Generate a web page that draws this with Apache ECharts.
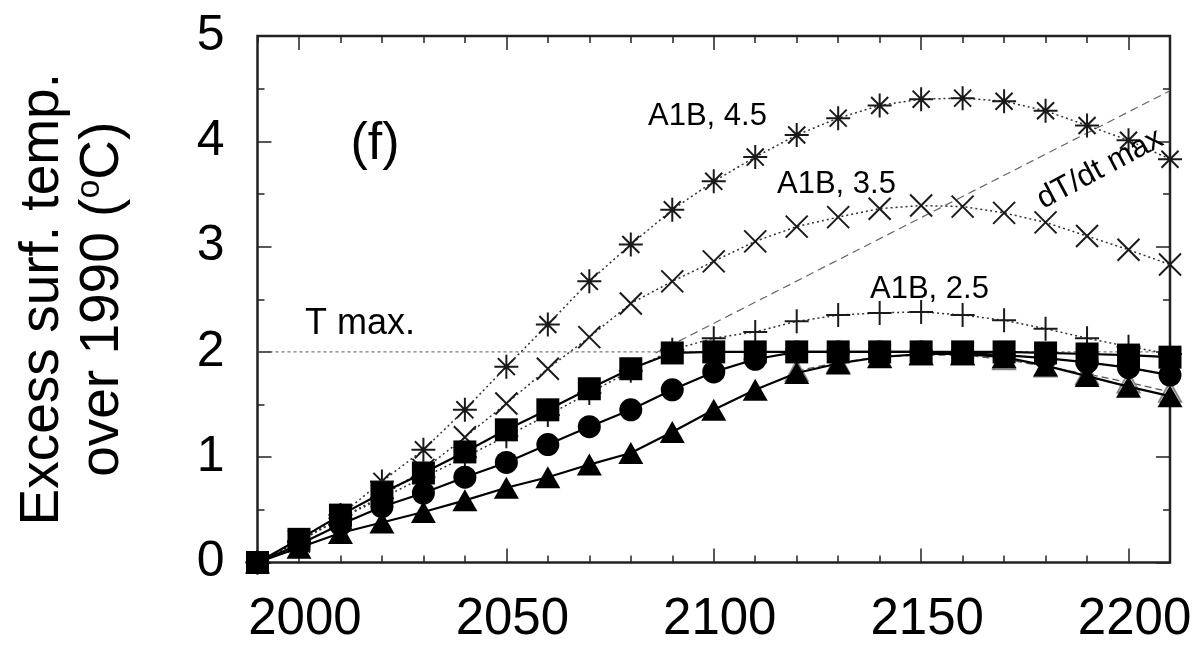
<!DOCTYPE html>
<html>
<head>
<meta charset="utf-8">
<script src="https://cdn.jsdelivr.net/npm/echarts@6/dist/echarts.min.js"></script>
<style>
html,body{margin:0;padding:0;background:#fff;}
#chart{width:1197px;height:650px;}
</style>
</head>
<body>
<div id="chart"></div>
<script>
// ---- data ----
var years = [1990,2000,2010,2020,2030,2040,2050,2060,2070,2080,2090,2100,2110,2120,2130,2140,2150,2160,2170,2180,2190,2200,2210];
var majorYears = [2000,2050,2100,2150,2200];

var a1b45 = [0,0.20,0.45,0.77,1.07,1.45,1.86,2.26,2.67,3.02,3.35,3.62,3.85,4.06,4.22,4.34,4.40,4.41,4.38,4.29,4.15,4.01,3.83];
var a1b35 = [0,0.20,0.42,0.63,0.88,1.19,1.51,1.84,2.14,2.46,2.67,2.86,3.05,3.19,3.28,3.36,3.39,3.38,3.32,3.23,3.10,2.97,2.83];
var a1b25 = [0,0.20,0.42,0.61,0.81,1.00,1.20,1.40,1.61,1.82,2.02,2.13,2.19,2.29,2.35,2.37,2.38,2.35,2.30,2.22,2.13,2.05,1.98];
var squares = [0,0.22,0.45,0.66,0.85,1.05,1.26,1.45,1.65,1.84,1.99,2.00,2.00,2.00,2.00,2.00,2.00,2.00,2.00,1.99,1.98,1.97,1.95];
var circles = [0,0.17,0.36,0.53,0.66,0.81,0.95,1.12,1.29,1.45,1.64,1.81,1.93,2.00,2.00,2.00,2.00,1.99,1.97,1.94,1.90,1.85,1.78];
var triangles = [0,0.14,0.28,0.38,0.48,0.59,0.71,0.81,0.93,1.04,1.24,1.45,1.64,1.80,1.89,1.95,1.98,1.98,1.95,1.87,1.77,1.67,1.58];
var tailYears = [2120,2130,2140,2150,2160,2170,2180,2190,2200,2210];
var openTail = [1.82,1.90,1.95,1.97,1.97,1.93,1.86,1.79,1.71,1.62];
var tmaxX = [1990,2210];
var tmaxY = [2,2];
var dtdtX = [2086,2210];
var dtdtY = [1.99,4.48];

// ---- build ----
function pts(xs, ys){ return xs.map(function(x,i){ return [x, ys[i]]; }); }

var FONT = 'Liberation Sans, Arial, Helvetica, sans-serif';
var AX = '#222';
var ASTER = 'path://M10,0L10,20M0,10L20,10M2.9,2.9L17.1,17.1M17.1,2.9L2.9,17.1';
var CROSS = 'path://M0,0L20,20M20,0L0,20';
var PLUS = 'path://M10,0L10,20M0,10L20,10';

function xAx(pos, major, withLabels){
  var a = {
    type:'value', min:1990, max:2210, position:pos, gridIndex:0,
    axisLine:{show:false}, splitLine:{show:false},
    axisTick:{show:true, inside:true, length: major?14:7, lineStyle:{color:AX, width:1.5}},
    axisLabel:{show:false}
  };
  if (major) { a.axisTick.customValues = majorYears; }
  else { a.interval = 10; }
  if (withLabels) {
    a.axisLabel = {show:true, customValues: majorYears, formatter:function(v){ return String(Math.round(v)); },
      fontSize:51, fontFamily:FONT, color:'#000', margin:32, padding:[0,0,0,12]};
  }
  return a;
}

var option = {
  animation:false,
  backgroundColor:'#fff',
  grid:{left:257.5, right:27, top:36, bottom:87.5, show:true, borderColor:AX, borderWidth:2.5, backgroundColor:'transparent'},
  xAxis:[ xAx('bottom', true, true), xAx('bottom', false, false), xAx('top', true, false), xAx('top', false, false) ],
  yAxis:[
    {type:'value', min:0, max:5, interval:1, position:'left',
     axisLine:{show:false}, splitLine:{show:false},
     axisTick:{show:true, inside:true, length:14, lineStyle:{color:AX, width:1.5}},
     minorTick:{show:true, splitNumber:2, length:7, lineStyle:{color:AX, width:1.5}},
     axisLabel:{fontSize:50, fontFamily:FONT, color:'#000', margin:33},
     name:'{t|Excess surf. temp.}\n{t|over 1990 (}{s|o}{t|C)}',
     nameLocation:'middle', nameRotate:90, nameGap:125,
     nameTextStyle:{fontSize:55, fontFamily:FONT, color:'#000', lineHeight:60,
       rich:{ t:{fontSize:55, fontFamily:FONT, color:'#000', lineHeight:60},
              s:{fontSize:34, fontFamily:FONT, color:'#000', lineHeight:60, verticalAlign:'top'} } }
    },
    {type:'value', min:0, max:5, interval:1, position:'right',
     axisLine:{show:false}, splitLine:{show:false},
     axisTick:{show:true, inside:true, length:14, lineStyle:{color:AX, width:1.5}},
     minorTick:{show:true, splitNumber:2, length:7, lineStyle:{color:AX, width:1.5}},
     axisLabel:{show:false}}
  ],
  series:[
    {type:'line', name:'T max', data:pts(tmaxX,tmaxY), symbol:'none', silent:true,
     lineStyle:{color:'#555', width:1, type:[3,3]}, z:1},
    {type:'line', name:'dT/dt max', data:pts(dtdtX,dtdtY), symbol:'none', silent:true,
     lineStyle:{color:'#666', width:1.2, type:[8,5]}, z:1},
    {type:'line', name:'open markers', data:pts(tailYears,openTail), symbol:'emptyTriangle', symbolSize:[22,20],
     itemStyle:{color:'#888', borderColor:'#888', borderWidth:1.5},
     lineStyle:{color:'#555', width:1.3, type:[7,4]}, z:2},
    {type:'line', name:'A1B, 4.5', data:pts(years,a1b45), symbol:ASTER, symbolSize:24,
     itemStyle:{color:'transparent', borderColor:'#1a1a1a', borderWidth:2},
     lineStyle:{color:'#333', width:1.5, type:[2,3]}, z:3},
    {type:'line', name:'A1B, 3.5', data:pts(years,a1b35), symbol:CROSS, symbolSize:22,
     itemStyle:{color:'transparent', borderColor:'#1a1a1a', borderWidth:2},
     lineStyle:{color:'#333', width:1.5, type:[2,3]}, z:3},
    {type:'line', name:'A1B, 2.5', data:pts(years,a1b25), symbol:PLUS, symbolSize:24,
     itemStyle:{color:'transparent', borderColor:'#1a1a1a', borderWidth:2},
     lineStyle:{color:'#333', width:1.5, type:[2,3]}, z:3},
    {type:'line', name:'triangles', data:pts(years,triangles), symbol:'triangle', symbolSize:[25,22],
     itemStyle:{color:'#000'}, lineStyle:{color:'#000', width:2.2}, z:4},
    {type:'line', name:'circles', data:pts(years,circles), symbol:'circle', symbolSize:23,
     itemStyle:{color:'#000'}, lineStyle:{color:'#000', width:2.2}, z:5},
    {type:'line', name:'squares', data:pts(years,squares), symbol:'rect', symbolSize:23,
     itemStyle:{color:'#000'}, lineStyle:{color:'#000', width:2.2}, z:6}
  ],
  graphic:[
    {type:'text', x:375, y:145, z:10, style:{text:'(f)', fontSize:52, fontFamily:FONT, fill:'#000', align:'center', verticalAlign:'middle'}},
    {type:'text', x:648, y:116, z:10, style:{text:'A1B, 4.5', fontSize:31, fontFamily:FONT, fill:'#000', align:'left', verticalAlign:'middle'}},
    {type:'text', x:777, y:184, z:10, style:{text:'A1B, 3.5', fontSize:31, fontFamily:FONT, fill:'#000', align:'left', verticalAlign:'middle'}},
    {type:'text', x:870, y:289, z:10, style:{text:'A1B, 2.5', fontSize:31, fontFamily:FONT, fill:'#000', align:'left', verticalAlign:'middle'}},
    {type:'text', x:305, y:324, z:10, style:{text:'T max.', fontSize:36, fontFamily:FONT, fill:'#000', align:'left', verticalAlign:'middle'}},
    {type:'text', x:1100, y:169, rotation:0.49, z:10, style:{text:'dT/dt max', fontSize:31, fontFamily:FONT, fill:'#000', align:'center', verticalAlign:'middle'}}
  ]
};

var chart = echarts.init(document.getElementById('chart'), null, {renderer:'canvas'});
chart.setOption(option);
</script>
</body>
</html>
